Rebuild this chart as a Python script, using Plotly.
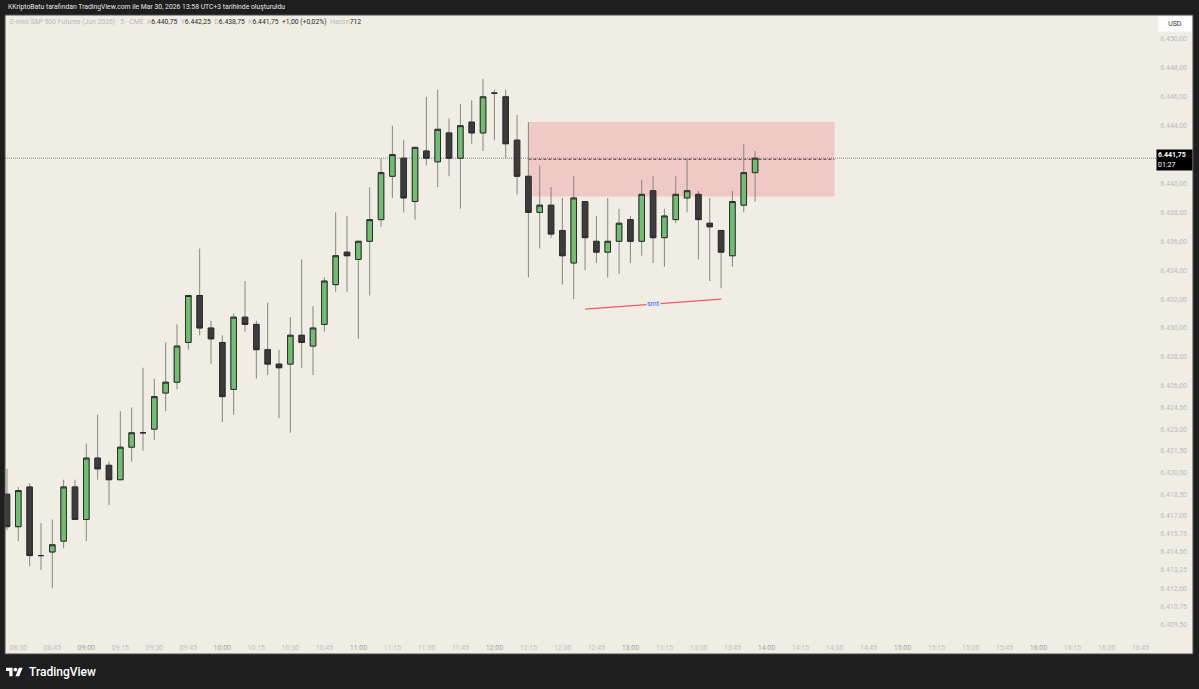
import plotly.graph_objects as go
from datetime import datetime, timedelta

# ---------------- data ----------------
start_time = datetime(2026, 3, 30, 8, 25)
opens = [6418.5, 6416.25, 6419.0, 6414.25, 6414.5, 6415.25, 6419.0, 6416.75, 6421.0, 6420.5,
         6419.5, 6421.75, 6422.75, 6423.0, 6425.5, 6426.25, 6429.0, 6432.25, 6430.0, 6429.0,
         6425.75, 6430.75, 6430.25, 6428.5, 6427.5, 6427.5, 6429.5, 6428.75, 6430.25, 6433.0,
         6435.25, 6434.75, 6436.0, 6437.5, 6440.5, 6441.75, 6438.75, 6442.25, 6441.5, 6443.5,
         6441.75, 6444.25, 6443.5, 6446.25, 6446.0, 6443.0, 6440.5, 6438.0, 6438.5, 6436.75,
         6434.5, 6438.75, 6436.0, 6435.25, 6436.0, 6437.5, 6436.0, 6439.5, 6436.25, 6437.5,
         6439.0, 6439.25, 6437.25, 6436.75, 6435.0, 6438.5, 6440.75]
highs = [6420.25, 6419.0, 6419.25, 6416.5, 6416.75, 6419.5, 6419.5, 6422.0, 6424.0, 6420.75,
         6424.25, 6424.5, 6427.25, 6426.5, 6429.0, 6430.25, 6432.25, 6435.5, 6430.5, 6429.5,
         6431.0, 6433.25, 6430.5, 6431.75, 6428.5, 6430.75, 6434.75, 6431.5, 6433.5, 6438.0,
         6437.75, 6436.0, 6439.75, 6441.75, 6444.0, 6443.0, 6442.5, 6446.0, 6446.5, 6444.5,
         6445.5, 6445.75, 6447.25, 6446.5, 6446.5, 6444.75, 6444.25, 6441.25, 6439.75, 6439.0,
         6440.5, 6438.75, 6437.75, 6439.0, 6438.25, 6437.75, 6440.25, 6440.5, 6438.25, 6440.5,
         6441.75, 6439.5, 6439.0, 6436.75, 6439.5, 6442.75, 6442.25]
lows = [6416.0, 6415.25, 6413.5, 6413.25, 6412.0, 6414.75, 6416.75, 6415.25, 6419.5, 6417.75,
        6419.5, 6420.75, 6421.5, 6422.25, 6424.25, 6425.75, 6428.5, 6429.5, 6427.5, 6423.5,
        6424.0, 6429.75, 6426.5, 6426.75, 6423.75, 6422.75, 6427.25, 6426.75, 6429.75, 6432.5,
        6432.5, 6429.25, 6432.25, 6437.0, 6439.0, 6438.0, 6437.5, 6441.25, 6439.75, 6440.5,
        6438.25, 6442.75, 6442.25, 6443.0, 6441.75, 6439.25, 6433.5, 6435.5, 6436.25, 6433.0,
        6432.0, 6434.0, 6434.5, 6433.5, 6433.75, 6434.5, 6435.0, 6434.5, 6434.25, 6437.25,
        6438.0, 6434.75, 6433.25, 6432.75, 6434.25, 6438.0, 6438.75]
closes = [6416.25, 6418.75, 6414.25, 6414.25, 6415.0, 6419.0, 6416.75, 6421.0, 6420.25, 6419.5,
          6421.75, 6422.75, 6422.75, 6425.25, 6426.25, 6428.75, 6432.25, 6430.0, 6429.25, 6425.25,
          6430.75, 6430.25, 6428.5, 6427.5, 6427.25, 6429.5, 6429.0, 6430.0, 6433.25, 6435.0,
          6435.0, 6436.0, 6437.5, 6440.75, 6442.0, 6439.0, 6442.5, 6441.75, 6443.75, 6441.75,
          6444.0, 6443.5, 6446.0, 6446.25, 6442.75, 6440.5, 6438.0, 6438.5, 6436.5, 6435.0,
          6439.0, 6436.25, 6435.25, 6436.0, 6437.25, 6436.0, 6439.25, 6436.25, 6437.75, 6439.25,
          6439.5, 6437.5, 6437.0, 6435.25, 6438.75, 6440.75, 6441.75]
times = [start_time + timedelta(minutes=5 * i) for i in range(len(opens))]

last_price = 6441.75
zone_times = ["2026-03-30 12:15", "2026-03-30 14:30"]
zone_prices = [6439.1, 6444.25]
smt_times = ["2026-03-30 12:40", "2026-03-30 13:40"]
smt_prices = [6431.3, 6432.0]

x_tick_labels = ["08:30", "08:45", "09:00", "09:15", "09:30", "09:45", "10:00", "10:15", "10:30",
                 "10:45", "11:00", "11:15", "11:30", "11:45", "12:00", "12:15", "12:30", "12:45",
                 "13:00", "13:15", "13:30", "13:45", "14:00", "14:15", "14:30", "14:45", "15:00",
                 "15:15", "15:30", "15:45", "16:00", "16:15", "16:30", "16:45"]
y_tick_values = [6450, 6448, 6446, 6444, 6440, 6438, 6436, 6434, 6432, 6430, 6428, 6426,
                 6424.5, 6423, 6421.5, 6420, 6418.5, 6417, 6415.75, 6414.5, 6413.25, 6412,
                 6410.75, 6409.5]
y_tick_labels = ["6.450,00", "6.448,00", "6.446,00", "6.444,00", "6.440,00",
                 "6.438,00", "6.436,00", "6.434,00", "6.432,00", "6.430,00", "6.428,00",
                 "6.426,00", "6.424,50", "6.423,00", "6.421,50", "6.420,00", "6.418,50",
                 "6.417,00", "6.415,75", "6.414,50", "6.413,25", "6.412,00", "6.410,75",
                 "6.409,50"]

# ---------------- styles ----------------
BG_DARK = "#1e1e1e"
PANE = "#f0ede5"
GREEN = "#72bd72"
DARK = "#3c3c3c"
OUTLINE = "#2c2c2c"
WICK = "#858585"
FONT = "Roboto"

# pixel helpers for the frame (plot area = pane)
PX0, PX1, PY0, PY1 = 5, 1193, 15, 654
def px(x):
    return (x - PX0) / (PX1 - PX0)
def py(y):
    return (PY1 - y) / (PY1 - PY0)

fig = go.Figure()

# wicks
fig.add_trace(go.Candlestick(
    x=times, open=opens, high=highs, low=lows, close=closes,
    increasing=dict(line=dict(color=WICK, width=1), fillcolor=WICK),
    decreasing=dict(line=dict(color=WICK, width=1), fillcolor=WICK),
    whiskerwidth=0, hoverinfo="skip", showlegend=False))
# bodies
fig.add_trace(go.Candlestick(
    x=times, open=opens, close=closes,
    high=[max(o, c) for o, c in zip(opens, closes)],
    low=[min(o, c) for o, c in zip(opens, closes)],
    increasing=dict(line=dict(color=OUTLINE, width=1), fillcolor=GREEN),
    decreasing=dict(line=dict(color=OUTLINE, width=1), fillcolor=DARK),
    whiskerwidth=0, hoverinfo="skip", showlegend=False))

# smt line
fig.add_trace(go.Scatter(x=smt_times, y=smt_prices, mode="lines",
                         line=dict(color="#ef5b66", width=1.3), hoverinfo="skip",
                         showlegend=False))

shapes = []
# supply zone
shapes.append(dict(type="rect", xref="x", yref="y", x0=zone_times[0], x1=zone_times[1],
                   y0=zone_prices[0], y1=zone_prices[1], fillcolor="rgba(242,54,69,0.2)",
                   line=dict(width=0), layer="below"))
shapes.append(dict(type="line", xref="x", yref="y", x0=zone_times[0], x1=zone_times[1],
                   y0=sum(zone_prices) / 2, y1=sum(zone_prices) / 2,
                   line=dict(color="#444444", width=1, dash="3px,2px"), layer="below"))
# last price dotted line
shapes.append(dict(type="line", xref="paper", yref="y", x0=0, x1=px(1157),
                   y0=last_price, y1=last_price,
                   line=dict(color="#8a8a8a", width=1, dash="1px,1px"), layer="below"))
# pane border
shapes.append(dict(type="rect", xref="paper", yref="paper", x0=0, x1=1, y0=0, y1=1,
                   line=dict(color="#4a4a4a", width=1), fillcolor="rgba(0,0,0,0)"))

# TradingView logo
s = 0.47
def lx(X):
    return px(6 + X * s)
def ly(Y):
    return py(667.7 + (Y - 4) * s)
def poly(pts):
    return "M " + " L ".join(f"{lx(a)},{ly(b)}" for a, b in pts) + " Z"
shapes.append(dict(type="path", xref="paper", yref="paper",
                   path=poly([(0, 4), (14, 4), (14, 22), (7, 22), (7, 11), (0, 11)]),
                   fillcolor="#ffffff", line=dict(width=0)))
shapes.append(dict(type="path", xref="paper", yref="paper",
                   path=poly([(20, 22), (27.5, 4), (35.5, 4), (28, 22)]),
                   fillcolor="#ffffff", line=dict(width=0)))
shapes.append(dict(type="circle", xref="paper", yref="paper",
                   x0=lx(16), x1=lx(24), y0=ly(4), y1=ly(12),
                   fillcolor="#ffffff", line=dict(width=0)))

annotations = []
annotations.append(dict(
    text="KKriptoBatu tarafından TradingView.com ile Mar 30, 2026 13:58 UTC+3 tarihinde oluşturuldu",
    xref="paper", yref="paper", x=px(6), y=py(7.5), xanchor="left", yanchor="middle",
    showarrow=False, font=dict(family=FONT, size=6.8, color="#e6e6e6")))
g = "color:#b9b9b9"
d = "color:#2a2a2a"
legend_txt = (f"<span style='{g}'>E-mini S&amp;P 500 Futures (Jun 2026) · 5 · CME  A</span>"
              f"<span style='{d}'>6.440,75</span><span style='{g}'>  Y</span>"
              f"<span style='{d}'>6.442,25</span><span style='{g}'>  D</span>"
              f"<span style='{d}'>6.438,75</span><span style='{g}'>  K</span>"
              f"<span style='{d}'>6.441,75  +1,00 (+0,02%)</span><span style='{g}'>  Hacim</span>"
              f"<span style='{d}'>712</span>")
annotations.append(dict(text=legend_txt, xref="paper", yref="paper", x=px(8), y=py(22),
                        xanchor="left", yanchor="middle", showarrow=False,
                        font=dict(family=FONT, size=6.8, color="#2a2a2a")))
# USD box
annotations.append(dict(text="USD", xref="paper", yref="paper", x=px(1175), y=py(24.5),
                        xanchor="center", yanchor="middle", showarrow=False, width=30, height=12,
                        bgcolor="#ffffff", font=dict(family=FONT, size=7, color="#333333")))
# last price label
annotations.append(dict(text="<b>6.441,75</b><br>01:27", xref="paper", yref="paper",
                        x=px(1174), y=py(160.5), xanchor="center", yanchor="middle",
                        showarrow=False, width=33, height=18, bgcolor="#000000", align="left",
                        font=dict(family=FONT, size=7, color="#ffffff")))
# smt label
annotations.append(dict(text="smt", xref="paper", yref="paper", x=px(653), y=py(304),
                        xanchor="center", yanchor="middle", showarrow=False, bgcolor=PANE,
                        borderpad=0, font=dict(family=FONT, size=7, color="#2962ff")))
# footer brand
annotations.append(dict(text="TradingView", xref="paper", yref="paper", x=px(27), y=py(672),
                        xanchor="left", yanchor="middle", showarrow=False,
                        font=dict(family=FONT, size=12, color="#ffffff", weight=500)))

x_tick_vals = [f"2026-03-30 {t}" for t in x_tick_labels]
x_tick_text = [f"<span style='color:#a3a3a3'>{t}</span>" if t.endswith(":00") else t
               for t in x_tick_labels]

fig.update_layout(
    width=1199, height=689,
    margin=dict(l=PX0, r=1199 - PX1, t=PY0, b=689 - PY1),
    paper_bgcolor=BG_DARK, plot_bgcolor=PANE,
    showlegend=False, shapes=shapes, annotations=annotations,
    font=dict(family=FONT),
    xaxis=dict(type="date", range=["2026-03-30 08:24:08", "2026-03-30 17:08:10"],
               rangeslider=dict(visible=False), showgrid=False, zeroline=False,
               showline=False, tickvals=x_tick_vals, ticktext=x_tick_text,
               ticklabelposition="inside", ticks="",
               tickfont=dict(family=FONT, size=7, color="#c0c0c0"), fixedrange=True),
    yaxis=dict(side="right", range=[6407.44, 6451.66], showgrid=False, zeroline=False,
               showline=False, tickvals=y_tick_values, ticktext=y_tick_labels,
               ticklabelposition="inside", ticks="", ticklabelstandoff=3,
               tickfont=dict(family=FONT, size=7, color="#bcbcbc"), fixedrange=True),
)

fig.write_html("out.html", config={"displayModeBar": False},
               post_script="document.body.style.margin='0';document.body.style.overflow='hidden';")
